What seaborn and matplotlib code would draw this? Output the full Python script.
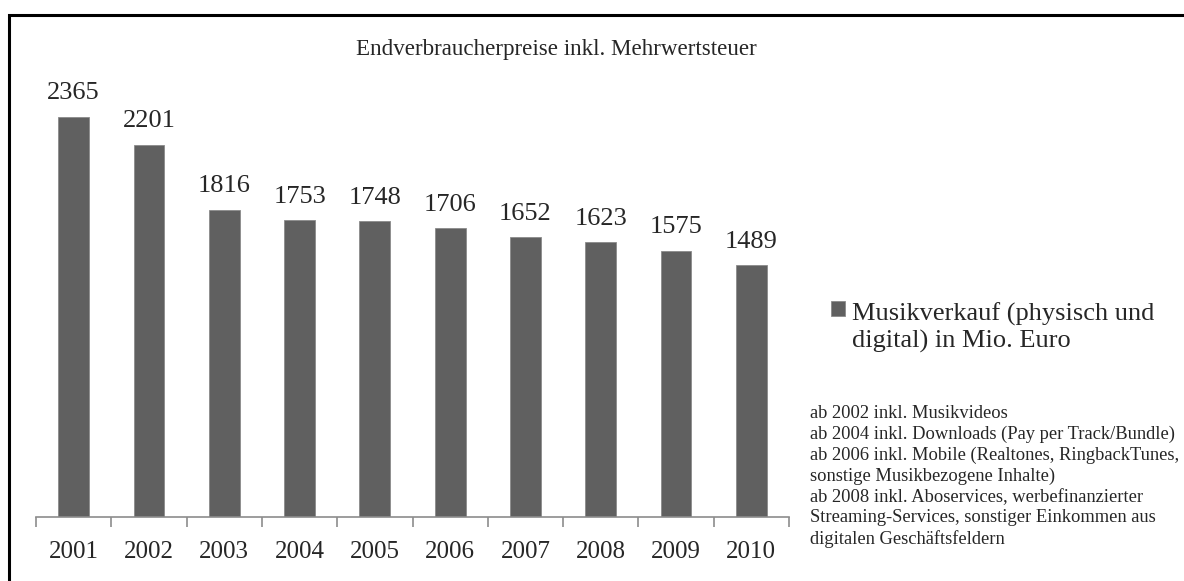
"""Musikverkauf in Deutschland 2001-2010 als Balkendiagramm."""

import matplotlib.pyplot as plt
import numpy as np
import pandas as pd
import seaborn as sns
from matplotlib.container import BarContainer
from matplotlib.legend_handler import HandlerPatch, update_from_first_child
from matplotlib.patches import Rectangle

# Daten
jahre = ["2001", "2002", "2003", "2004", "2005", "2006", "2007", "2008", "2009", "2010"]
umsatz = [2365, 2201, 1816, 1753, 1748, 1706, 1652, 1623, 1575, 1489]
serien_name = "Musikverkauf (physisch und\ndigital) in Mio. Euro"
titel = "Endverbraucherpreise inkl. Mehrwertsteuer"
fussnoten = [
    "ab 2002 inkl. Musikvideos",
    "ab 2004 inkl. Downloads (Pay per Track/Bundle)",
    "ab 2006 inkl. Mobile (Realtones, RingbackTunes,",
    "sonstige Musikbezogene Inhalte)",
    "ab 2008 inkl. Aboservices, werbefinanzierter",
    "Streaming-Services, sonstiger Einkommen aus",
    "digitalen Geschäftsfeldern",
]

sns.set_style("white")
plt.rcParams["font.family"] = ["Liberation Serif", "DejaVu Serif"]

df = pd.DataFrame({"Jahr": jahre, "Umsatz": umsatz})

W, H = 1184, 581
fig = plt.figure(figsize=(W / 100, H / 100), dpi=100)
ax = fig.add_axes([36 / W, 64 / H, (789 - 36) / W, 423 / H])

balken_farbe = "#606060"
sns.barplot(data=df, x="Jahr", y="Umsatz", color=balken_farbe, width=0.41,
            saturation=1, edgecolor="#8a8a8a", linewidth=0.6, ax=ax,
            label=serien_name)

ax.set_ylim(0, 2500)
ax.set_xlim(-0.5, len(jahre) - 0.5)
ax.set_xlabel("")
ax.set_ylabel("")
ax.set_yticks([])

for s in ["top", "right", "left"]:
    ax.spines[s].set_visible(False)
ax.spines["bottom"].set_color("#8c8c8c")
ax.spines["bottom"].set_linewidth(1.2)

# Excel-Stil: Striche zwischen den Kategorien
ax.set_xticks(np.arange(-0.5, len(jahre)), minor=True)
ax.tick_params(axis="x", which="minor", bottom=True, direction="out", length=7,
               width=1.2, color="#8c8c8c")
ax.tick_params(axis="x", which="major", bottom=True, length=0, labelsize=18, pad=17)

# Werte über den Balken
for i, wert in enumerate(umsatz):
    ax.annotate(str(wert), xy=(i, wert), xytext=(0, 9), textcoords="offset points",
                ha="center", va="bottom", fontsize=19)

fig.text(556 / W, 1 - 49 / H, titel, ha="center", va="center", fontsize=16.6)


# Legendenquadrat auf Höhe der ersten Textzeile
def quadrat_oben(legend, orig_handle, xdescent, ydescent, width, height, fontsize):
    return Rectangle((-xdescent, -ydescent + 13), width, height)


leg = ax.legend(loc="upper left", bbox_to_anchor=(820 / W, 1 - 292 / H),
                bbox_transform=fig.transFigure, frameon=False, fontsize=19,
                handlelength=0.53, handleheight=0.53, handletextpad=0.28,
                borderaxespad=0, labelspacing=0,
                handler_map={BarContainer: HandlerPatch(
                    patch_func=quadrat_oben, update_func=update_from_first_child)})
for h in leg.legend_handles:
    h.set_edgecolor("#8a8a8a")
    h.set_linewidth(0.6)

fig.text(810 / W, 1 - 405 / H, "\n".join(fussnoten), ha="left", va="top",
         fontsize=13.3, linespacing=1.28)

# Rahmen um die Grafik
fig.patches.append(Rectangle((8.5 / W, -0.1), 1.2, 1 - 14.5 / H + 0.1,
                             transform=fig.transFigure, fill=False,
                             edgecolor="black", linewidth=2.2))

fig.savefig("out.png", dpi=100)
